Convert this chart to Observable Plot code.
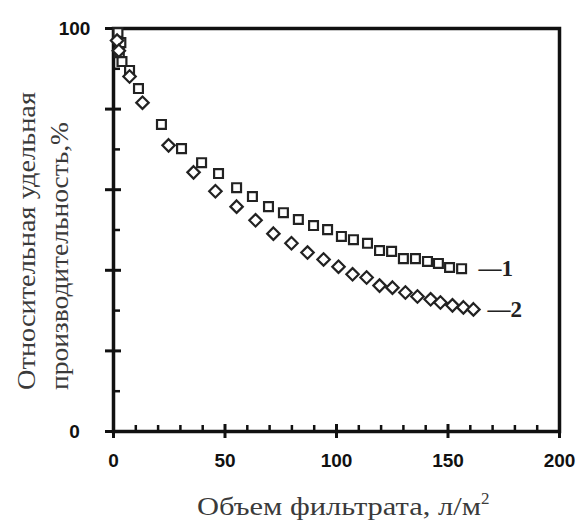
<!DOCTYPE html>
<html><head><meta charset="utf-8">
<script src="https://cdn.jsdelivr.net/npm/d3@7"></script>
<script src="https://cdn.jsdelivr.net/npm/@observablehq/plot@0.6"></script>
<style>body{margin:0;background:#fff}</style>
</head><body><div id="chart"></div>
<script>
// Series 1 (squares)
const s1x = [2.0, 3.3, 2.6, 3.8, 7.2, 11.2, 21.5, 30.5, 39.5, 47.1, 55.2, 62.3, 69.5, 76.2, 82.9, 89.7, 96.0, 102.2, 107.6, 113.9, 119.3, 124.7, 130.0, 135.4, 140.8, 145.7, 150.7, 156.1];
const s1y = [99.0, 96.5, 94.0, 91.8, 89.6, 85.1, 76.2, 70.2, 66.7, 64.0, 60.5, 58.3, 55.8, 54.3, 52.6, 51.1, 50.1, 48.4, 47.6, 46.7, 44.9, 44.7, 42.9, 42.9, 42.2, 41.7, 40.7, 40.4];
// Series 2 (diamonds)
const s2x = [1.6, 2.4, 7.2, 13.0, 24.7, 35.9, 45.7, 55.2, 63.7, 71.7, 79.8, 87.0, 94.2, 100.9, 107.2, 113.5, 119.3, 125.1, 130.9, 136.3, 142.2, 146.6, 152.0, 156.9, 161.4];
const s2y = [97.0, 94.5, 88.1, 81.6, 71.0, 64.3, 59.6, 55.8, 52.4, 49.1, 46.7, 44.4, 42.7, 40.9, 39.0, 38.2, 36.2, 35.7, 34.5, 33.5, 32.8, 32.0, 31.3, 30.8, 30.3];
const seriesLabels = ["—1", "—2"];
const xMajor = [0, 50, 100, 150, 200];
const xMinor = [10,20,30,40,60,70,80,90,110,120,130,140,160,170,180,190];
const yMajor = [0, 20, 40, 60, 80, 100];
const yMinor = [10, 30, 50, 70, 90];
const yLabels = [0, 100];
const xTitle = "Объем фильтрата, л/м";
const yTitle1 = "Относительная удельная";
const yTitle2 = "производительность,%";

const d1 = s1x.map((x, i) => ({x, y: s1y[i]}));
const d2 = s2x.map((x, i) => ({x, y: s2y[i]}));
const ends = [
  {x: s1x[s1x.length-1], y: s1y[s1y.length-1], t: seriesLabels[0]},
  {x: s2x[s2x.length-1], y: s2y[s2y.length-1], t: seriesLabels[1]}
];

const W = 579, H = 522;
const tickFont = {fontFamily: "Liberation Sans", fontWeight: "bold", fontSize: 19, fill: "#111"};
const chart = Plot.plot({
  width: W, height: H,
  marginLeft: 113, marginRight: 20, marginTop: 28, marginBottom: 91,
  x: {domain: [0, 200], axis: null},
  y: {domain: [0, 100], axis: null},
  style: {background: "#fff", overflow: "visible"},
  marks: [
    Plot.axisX({ticks: xMajor, anchor: "bottom", tickSize: 14, dy: -7, tickFormat: () => "", strokeWidth: 3, stroke: "#111", label: null}),
    Plot.axisX({ticks: xMinor, anchor: "bottom", tickSize: 6, dy: -6, tickFormat: () => "", strokeWidth: 2.5, stroke: "#111", label: null}),
    Plot.axisY({ticks: yMajor, anchor: "left", tickSize: 16, dx: 8, tickFormat: () => "", strokeWidth: 3, stroke: "#111", label: null}),
    Plot.axisY({ticks: yMinor, anchor: "left", tickSize: 7, dx: 7, tickFormat: () => "", strokeWidth: 2.5, stroke: "#111", label: null}),
    Plot.text(xMajor, {x: d => d, frameAnchor: "bottom", dy: 35, text: d => String(d), ...tickFont}),
    Plot.text(yLabels, {y: d => d, frameAnchor: "left", dx: -39, textAnchor: "middle", text: d => String(d), ...tickFont}),
    Plot.frame({stroke: "#111", strokeWidth: 3.5}),
    Plot.dot(d1, {x: "x", y: "y", symbol: "square", r: 5, stroke: "#222", strokeWidth: 2.2, fill: "white"}),
    Plot.dot(d2, {x: "x", y: "y", symbol: "diamond2", r: 5.6, stroke: "#222", strokeWidth: 2.2, fill: "white"}),
    Plot.text(ends.slice(0,1), {x: "x", y: "y", text: "t", dx: 17, textAnchor: "start", fontFamily: "Liberation Serif", fontWeight: "bold", fontSize: 23, fill: "#222"}),
    Plot.text(ends.slice(1), {x: "x", y: "y", text: "t", dx: 14, textAnchor: "start", fontFamily: "Liberation Serif", fontWeight: "bold", fontSize: 23, fill: "#222"})
  ]
});
document.getElementById("chart").appendChild(chart);

const svg = d3.select(chart);
const g = svg.append("g").attr("style", "font-family:'Liberation Serif';font-size:26px;fill:#3a3a3a;text-anchor:start");
g.append("text").attr("transform", "translate(35,390) rotate(-90)").attr("textLength", 298).attr("lengthAdjust", "spacingAndGlyphs").text(yTitle1);
g.append("text").attr("transform", "translate(68,390) rotate(-90)").attr("textLength", 268).attr("lengthAdjust", "spacingAndGlyphs").text(yTitle2);
const xt = g.append("text").attr("x", 197).attr("y", 515).attr("style", "font-size:25px");
xt.append("tspan").attr("textLength", 284).attr("lengthAdjust", "spacingAndGlyphs").text(xTitle);
xt.append("tspan").attr("dy", -11).attr("style", "font-size:17px").text("2");
</script>
</body></html>
